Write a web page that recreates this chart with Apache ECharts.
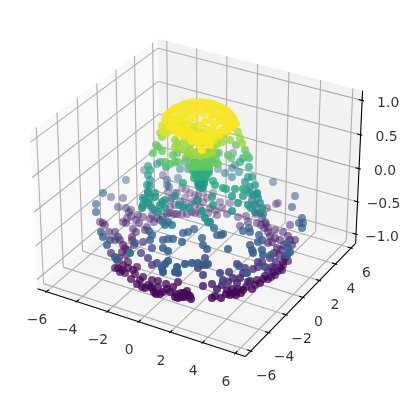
<!DOCTYPE html>
<html>
<head>
<meta charset="utf-8">
<style>
  html, body { margin: 0; padding: 0; background: #fff; }
  #main { width: 410px; height: 399px; }
</style>
<script src="https://cdn.jsdelivr.net/npm/echarts@6/dist/echarts.min.js"></script>
</head>
<body>
<div id="main"></div>
<script>
// tick labels
var xTicks = [-6, -4, -2, 0, 2, 4, 6];
var yTicks = [-6, -4, -2, 0, 2, 4, 6];
var zTicks = [-1, -0.5, 0, 0.5, 1];

// points, [across, down], one list per colour level
var zDeep = -0.98;
var deepPoints = [[175,297],[178,298],[182,297],[185,297],[191,299],[184,293],[187,291],[180,296],[154,292],[152,288],[156,294],[160,294],[167,289],[173,287],[178,282],[137,284],[142,287],[131,279],[145,288],[151,287],[118,268],[122,270],[125,273],[135,274],[137,267],[143,277],[152,280],[158,281],[123,245],[125,248],[132,240],[115,268],[123,265],[128,268],[133,270],[212,298],[221,298],[227,290],[232,289],[233,293],[230,295],[241,293],[243,290],[252,289],[250,281],[257,280],[263,279],[268,279],[271,277],[275,275],[278,271],[282,270],[268,232],[268,228],[283,262],[288,261],[283,265],[176,294],[181,293],[188,295],[190,296],[170,292],[163,292],[148,285],[140,280],[128,262],[126,255],[119,258],[128,250],[134,245],[120,272],[158,287],[166,284],[215,296],[236,292],[238,289],[246,287],[255,285],[260,283],[265,276],[273,272],[280,268],[285,258],[270,236],[272,242],[266,224],[236,295],[226,294]];
var zPurple = -0.82;
var purplePoints = [[122,252],[111,253],[115,232],[123,222],[126,223],[100,222],[103,223],[152,265],[177,214],[182,214],[187,214],[195,213],[170,213],[163,217],[157,218],[150,219],[147,227],[139,223],[133,229],[132,237],[131,216],[143,217],[152,215],[160,220],[217,289],[237,283],[228,282],[243,273],[253,269],[258,267],[272,267],[276,262],[279,255],[277,248],[274,253],[292,245],[295,240],[290,240],[261,225],[257,223],[265,222],[248,222],[203,286],[248,282],[240,278],[268,271],[286,256],[275,268],[177,193],[190,193],[195,195],[185,198],[192,202],[198,200],[180,202],[131,210],[138,215],[203,202],[220,202],[230,203],[227,214],[238,217],[217,215],[208,213],[267,208],[278,203],[276,204],[275,230],[283,232],[290,225],[268,243],[275,238],[168,192],[172,198],[203,193],[213,193],[207,198],[175,193],[115,240],[109,232],[105,225],[120,240],[136,232],[136,220],[167,214],[174,214],[192,212],[200,214],[154,222],[145,230],[127,218],[281,250],[284,245],[288,236],[262,218],[256,214],[240,226],[246,216],[212,284],[222,285],[233,278],[245,268],[262,262],[270,258],[280,240],[264,228],[150,205],[155,210],[170,200],[175,205],[185,205],[195,205],[200,208],[170,207],[210,208],[215,210],[222,208],[186,190],[198,196],[182,188]];
var zIndigo = -0.62;
var indigoPoints = [[123,198],[118,207],[111,197],[126,208],[129,212],[118,237],[110,240],[152,248],[148,258],[141,253],[143,242],[157,263],[265,267],[258,262],[237,264],[229,272],[220,273],[223,280],[203,275],[205,258],[208,264],[202,265],[198,268]];
var zBlue = -0.4;
var bluePoints = [[96,204],[96,212],[101,232],[103,237],[107,245],[115,257],[117,260],[163,240],[168,239],[173,239],[163,248],[168,251],[182,242],[183,233],[188,232],[194,229],[149,231],[168,261],[165,264],[162,268],[163,272],[177,267],[175,272],[178,273],[185,264],[192,263],[198,263],[206,265],[295,196],[292,207],[302,218],[299,223],[303,223],[302,228],[243,231],[249,228],[250,232],[217,235],[221,235],[223,234],[202,238],[203,245],[207,249],[228,249],[250,245],[252,250],[253,253],[259,235],[258,242],[262,240],[262,250],[263,255],[271,255],[287,243],[288,248],[290,252],[287,255],[239,266],[247,273],[273,182],[126,180],[144,170],[163,175],[178,178],[209,173],[218,169],[212,159],[167,180],[167,185],[169,187],[152,235],[150,240],[135,243]];
var zTealBlue = -0.2;
var tealBluePoints = [[103,193],[130,253],[210,222],[214,228],[255,212],[260,213],[263,214],[255,205],[260,203],[252,200],[250,193],[257,194],[232,177],[225,173],[239,172],[235,165],[232,168],[180,169],[188,169],[185,162],[157,164],[233,153],[219,153],[163,222],[168,222],[172,225],[165,225]];
var zTeal = 0.05;
var tealPoints = [[148,193],[143,205],[142,208],[145,200],[148,203],[162,202],[165,200],[160,205],[158,212],[179,205],[183,207],[197,201],[208,222],[212,197],[213,205],[202,211],[232,196],[232,211],[243,196],[253,195],[257,193],[246,190],[250,187],[255,185],[245,182],[252,177],[248,177],[148,175],[150,180],[147,185],[148,192],[143,198],[200,188],[202,188],[198,184],[204,184],[201,183],[197,179],[200,179],[205,179],[203,187],[199,186],[198,181],[201,180],[204,181],[199,183],[202,185],[200,185],[150,198],[155,197],[152,208],[155,193],[150,186],[165,208],[175,196],[189,208],[205,218],[238,203],[248,205],[258,198],[262,208],[251,208]];
var zSea = 0.25;
var seaPoints = [[148,166],[150,170],[195,175],[200,174],[206,174],[193,171],[197,170],[203,170],[209,170],[249,167],[223,188],[226,189],[235,189],[243,189],[215,185],[213,181],[183,183],[240,162],[243,158],[249,158],[166,167],[160,162],[194,178],[197,176],[200,177],[203,176],[206,177],[195,173],[199,172],[202,172],[205,172],[208,172]];
var zGreen = 0.5;
var greenPoints = [[165,162],[170,164],[175,162],[178,162],[153,153],[162,151],[156,145],[158,147],[173,155],[177,153],[217,153],[228,155],[231,158],[218,164],[207,152],[245,150],[247,155],[236,145],[190,165],[194,163],[200,165],[206,165],[212,163],[186,158],[216,160],[192,158],[198,158],[205,158],[210,157],[192,167],[197,167],[203,167],[209,167],[195,161],[201,161],[207,161]];
var zLime = 0.7;
var limePoints = [[175,147],[179,148],[177,143],[175,140],[240,138],[242,143],[222,142],[230,140],[223,135],[238,132],[160,133],[162,137],[185,150],[190,150],[196,152],[202,153],[208,152],[214,148],[183,143],[190,144],[217,144],[188,153],[194,155],[200,156],[206,155],[212,153]];
var zOlive = 0.88;
var olivePoints = [[165,123],[163,132],[167,133],[162,126],[166,127],[171,130],[177,132],[184,136],[190,139],[196,142],[202,144],[208,143],[214,140],[220,136],[227,132],[233,127],[172,124],[178,122],[187,124],[192,128],[198,130],[204,132],[184,126],[189,125],[194,128],[186,130],[181,127]];
var zYellow = 0.98;
var yellowPoints = [[170,112],[175,108],[180,106],[185,104],[190,103],[195,103],[200,103],[205,103],[210,104],[215,105],[220,107],[225,110],[229,113],[232,117],[234,122],[172,118],[178,113],[184,110],[192,108],[199,107],[207,108],[213,110],[219,112],[224,116],[228,120],[230,125],[166,116],[165,120],[170,127],[178,128],[185,127],[188,131],[193,134],[200,136],[208,136],[215,133],[222,130],[227,126],[175,123],[180,120],[200,125],[205,122],[210,120],[215,124],[190,122],[195,118],[185,118],[212,115],[204,114],[196,113],[188,114],[220,121],[178,133],[183,135],[192,141],[198,143],[205,141],[210,145],[202,150],[208,130],[213,128],[220,118],[168,114],[173,110],[178,108],[183,105],[188,104],[193,102],[198,102],[203,102],[208,103],[213,104],[218,106],[223,108],[227,111],[231,115],[234,119],[236,124],[172,127],[176,130],[181,131],[186,133],[190,136],[196,138],[203,139],[211,138],[218,135],[225,130],[230,128],[173,122],[178,118],[183,114],[190,111],[197,110],[205,110],[212,113],[218,116],[224,122]];

var viridis = ['#440154', '#482475', '#414487', '#355f8d', '#2a788e', '#21918c', '#22a884', '#44bf70', '#7ad151', '#bddf26', '#fde725'];

// same view as the reference: elev 30, azim -60, dist 10
var xLim = 6.6, yLim = 6.6, zLim = 1.14;
var boxX = 0.595, boxY = 0.595, boxZ = 0.446;
var plotScale = 200, plotLeft = 199.5, plotTop = 190;
function project(x, y, z) {
  var qx = x / xLim * boxX, qy = y / yLim * boxY, qz = z / zLim * boxZ;
  var right = 0.866 * qx + 0.5 * qy;
  var up = -0.25 * qx + 0.433 * qy + 0.866 * qz;
  var toEye = 0.433 * qx - 0.75 * qy + 0.5 * qz;
  var f = 10 / (10 - toEye);
  return [plotLeft + plotScale * right * f, plotTop - plotScale * up * f];
}

function seg(a, b) {
  return { coords: [project(a[0], a[1], a[2]), project(b[0], b[1], b[2])] };
}

var gridSegs = [];
var axisSegs = [];
var labels = [];
function addLabel(pos, dx, dy, text) {
  labels.push({ value: [pos[0] + dx, pos[1] + dy], name: text });
}
function tickText(v) {
  return String(v).replace('-', '\u2212');
}

xTicks.forEach(function (t) {
  gridSegs.push(seg([t, -yLim, -zLim], [t, yLim, -zLim]));
  gridSegs.push(seg([t, yLim, -zLim], [t, yLim, zLim]));
  axisSegs.push(seg([t, -yLim - 0.11, -zLim], [t, -yLim + 0.22, -zLim]));
  addLabel(project(t, -yLim, -zLim), -9.5, 29, tickText(t));
});
yTicks.forEach(function (t) {
  gridSegs.push(seg([-xLim, t, -zLim], [xLim, t, -zLim]));
  gridSegs.push(seg([-xLim, t, -zLim], [-xLim, t, zLim]));
  axisSegs.push(seg([xLim - 0.22, t, -zLim], [xLim + 0.11, t, -zLim]));
  addLabel(project(xLim, t, -zLim), 15.5, 25, tickText(t));
});
zTicks.forEach(function (t) {
  gridSegs.push(seg([-xLim, -yLim, t], [-xLim, yLim, t]));
  gridSegs.push(seg([-xLim, yLim, t], [xLim, yLim, t]));
  axisSegs.push(seg([xLim - 0.22, yLim, t], [xLim + 0.11, yLim, t]));
  addLabel(project(xLim, yLim, t), 26, 3, tickText(t.toFixed(1)));
});
axisSegs.push(seg([-xLim, -yLim, -zLim], [xLim, -yLim, -zLim]));
axisSegs.push(seg([xLim, -yLim, -zLim], [xLim, yLim, -zLim]));
axisSegs.push(seg([xLim, yLim, -zLim], [xLim, yLim, zLim]));

var panes = [
  { corners: [[-xLim, -yLim, -zLim], [-xLim, yLim, -zLim], [-xLim, yLim, zLim], [-xLim, -yLim, zLim]], color: '#f9f9f9' },
  { corners: [[-xLim, yLim, -zLim], [xLim, yLim, -zLim], [xLim, yLim, zLim], [-xLim, yLim, zLim]], color: '#f2f2f2' },
  { corners: [[-xLim, -yLim, -zLim], [xLim, -yLim, -zLim], [xLim, yLim, -zLim], [-xLim, yLim, -zLim]], color: '#f5f5f5' }
];

var groups = [
  [zDeep, deepPoints], [zPurple, purplePoints], [zIndigo, indigoPoints], [zBlue, bluePoints],
  [zTealBlue, tealBluePoints], [zTeal, tealPoints], [zSea, seaPoints], [zGreen, greenPoints],
  [zLime, limePoints], [zOlive, olivePoints], [zYellow, yellowPoints]
];
var dots = [];
groups.forEach(function (g) {
  g[1].forEach(function (p) {
    // 4th value is nearness to the viewer, far dots are drawn first and paler
    dots.push([p[0], p[1], g[0], p[1] + 90 * g[0]]);
  });
});
dots.sort(function (a, b) { return a[3] - b[3]; });
var nearValues = dots.map(function (d) { return d[3]; });

var myChart = echarts.init(document.getElementById('main'), null, { renderer: 'canvas' });
myChart.setOption({
  animation: false,
  backgroundColor: '#ffffff',
  grid: { left: 0, right: 0, top: 0, bottom: 0 },
  xAxis: { type: 'value', min: 0, max: 410, show: false },
  yAxis: { type: 'value', min: 0, max: 399, inverse: true, show: false },
  visualMap: [
    { show: false, seriesIndex: 3, dimension: 2, min: -1, max: 1, inRange: { color: viridis } },
    { show: false, seriesIndex: 3, dimension: 3, min: Math.min.apply(null, nearValues), max: Math.max.apply(null, nearValues), inRange: { opacity: [0.3, 1] } }
  ],
  series: [
    {
      type: 'custom',
      coordinateSystem: 'cartesian2d',
      silent: true,
      z: 1,
      data: panes.map(function (p, i) { return [i]; }),
      encode: { x: 0 },
      renderItem: function (params, api) {
        var pane = panes[params.dataIndex];
        return {
          type: 'polygon',
          shape: {
            points: pane.corners.map(function (c) {
              return api.coord(project(c[0], c[1], c[2]));
            })
          },
          style: { fill: pane.color }
        };
      }
    },
    {
      type: 'lines',
      coordinateSystem: 'cartesian2d',
      silent: true,
      z: 2,
      data: gridSegs,
      lineStyle: { color: '#b0b0b0', width: 1.1, opacity: 1 }
    },
    {
      type: 'lines',
      coordinateSystem: 'cartesian2d',
      silent: true,
      z: 3,
      data: axisSegs,
      lineStyle: { color: '#000000', width: 1.1, opacity: 1 }
    },
    {
      type: 'scatter',
      z: 5,
      symbolSize: 8,
      silent: true,
      data: dots,
      clip: false
    },
    {
      type: 'scatter',
      z: 6,
      symbolSize: 0,
      silent: true,
      data: labels,
      label: {
        show: true,
        position: 'inside',
        formatter: '{b}',
        color: '#000000',
        textBorderWidth: 0,
        fontFamily: 'DejaVu Sans',
        fontSize: 13.9,
        align: 'center',
        verticalAlign: 'middle'
      }
    }
  ]
});
</script>
</body>
</html>
